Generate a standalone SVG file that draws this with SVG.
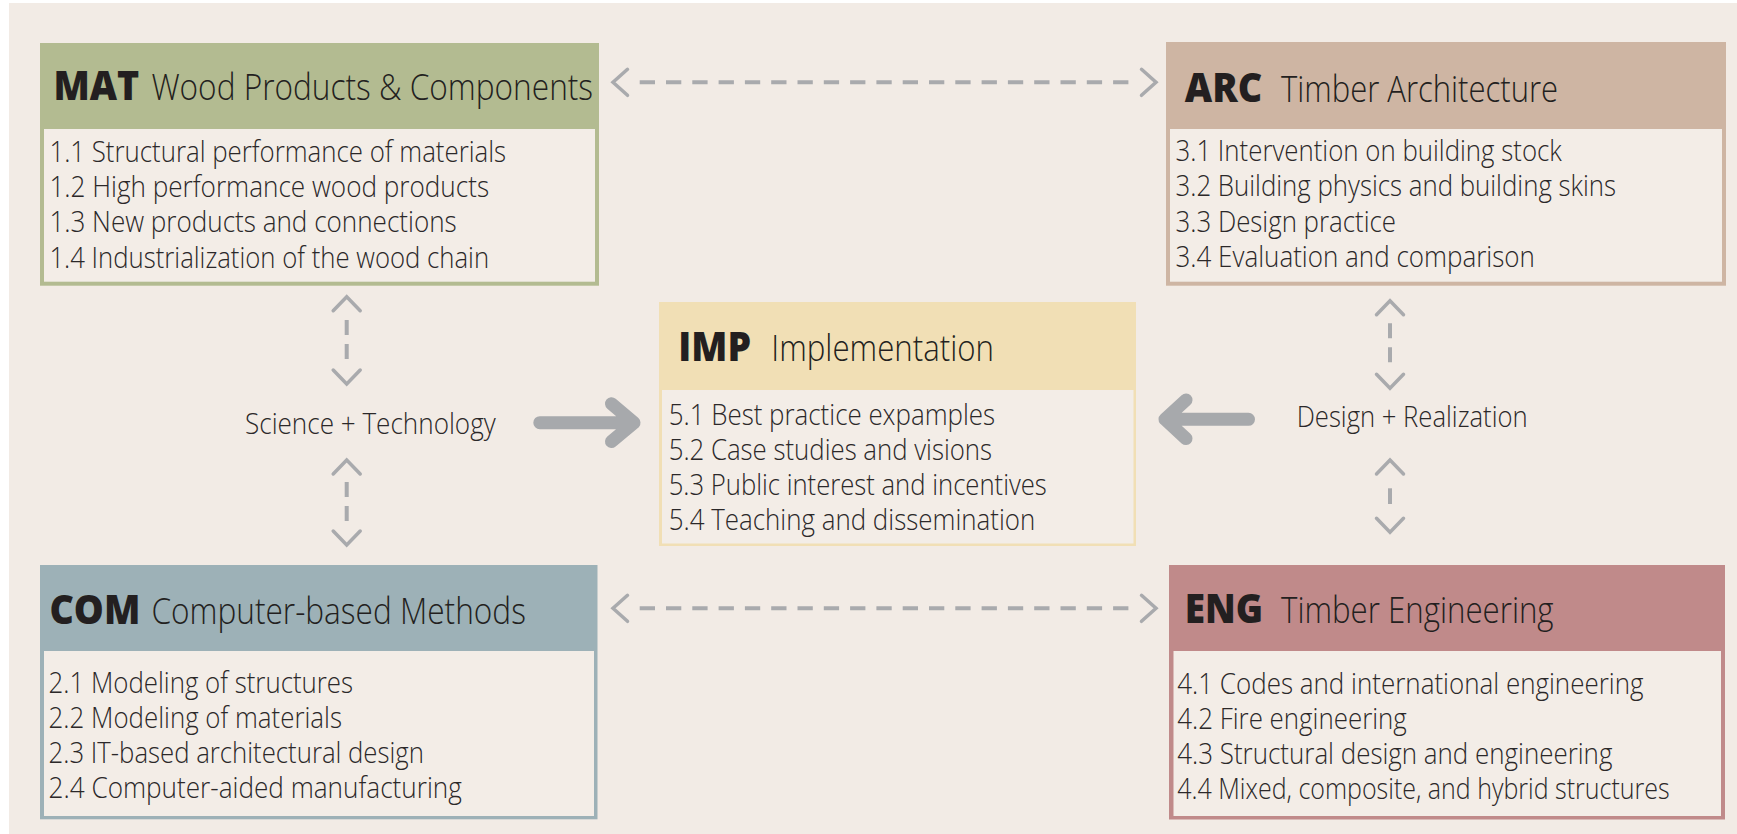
<svg xmlns="http://www.w3.org/2000/svg" width="1737" height="834" viewBox="0 0 1737 834">
<style>
.bg{fill:#f2ebe5}
.body{fill:#f3ede7}
.abbr{font-family:"Open Sans","DejaVu Sans",sans-serif;font-weight:800;font-size:40px;fill:#231f20}
.title{font-family:"Open Sans","DejaVu Sans",sans-serif;font-weight:300;font-size:37px;fill:#231f20}
.item{font-family:"Open Sans","DejaVu Sans",sans-serif;font-weight:300;font-size:30px;fill:#2b2829}
.lbl{font-family:"Open Sans","DejaVu Sans",sans-serif;font-weight:300;font-size:30px;fill:#2b2829}
.dash{stroke:#a9aaad;stroke-width:4;fill:none}
.dh{stroke-dasharray:15.3 11}
.dv{stroke-dasharray:15 9}
.chev{stroke:#a9aaad;stroke-width:3.5;fill:none;stroke-linecap:round;stroke-linejoin:miter}
.big{stroke:#a7a9ac;stroke-width:13;fill:none;stroke-linecap:round;stroke-linejoin:round}
</style>
<rect x="0" y="0" width="1737" height="834" fill="#ffffff"/>
<rect class="bg" x="9" y="3" width="1728" height="831"/>

<g id="node-MAT">
<rect x="40" y="43" width="559" height="242.7" fill="#b3bb91"/>
<rect class="body" x="44" y="129" width="551" height="152.7"/>
<text class="abbr" x="53.4" y="100" textLength="85.8" lengthAdjust="spacingAndGlyphs">MAT</text>
<text class="title" x="151.4" y="100" textLength="441.7" lengthAdjust="spacingAndGlyphs">Wood Products &amp; Components</text>
<text class="item" x="49.4" y="161.7" textLength="456.7" lengthAdjust="spacingAndGlyphs">1.1 Structural performance of materials</text>
<text class="item" x="49.4" y="196.7" textLength="439.7" lengthAdjust="spacingAndGlyphs">1.2 High performance wood products</text>
<text class="item" x="49.4" y="232" textLength="407.3" lengthAdjust="spacingAndGlyphs">1.3 New products and connections</text>
<text class="item" x="49.4" y="267.7" textLength="439.7" lengthAdjust="spacingAndGlyphs">1.4 Industrialization of the wood chain</text>
</g>

<g id="node-ARC">
<rect x="1166" y="42" width="560" height="243.7" fill="#ceb5a3"/>
<rect class="body" x="1170" y="129" width="552" height="152.7"/>
<text class="abbr" x="1184.8" y="101.7" textLength="77.5" lengthAdjust="spacingAndGlyphs">ARC</text>
<text class="title" x="1281" y="101.7" textLength="277.1" lengthAdjust="spacingAndGlyphs">Timber Architecture</text>
<text class="item" x="1175.5" y="161" textLength="386.3" lengthAdjust="spacingAndGlyphs">3.1 Intervention on building stock</text>
<text class="item" x="1175.5" y="196" textLength="440.6" lengthAdjust="spacingAndGlyphs">3.2 Building physics and building skins</text>
<text class="item" x="1175.5" y="231.7" textLength="220.5" lengthAdjust="spacingAndGlyphs">3.3 Design practice</text>
<text class="item" x="1175.5" y="266.7" textLength="359.4" lengthAdjust="spacingAndGlyphs">3.4 Evaluation and comparison</text>
</g>

<g id="node-COM">
<rect x="40" y="565" width="557.5" height="254.3" fill="#9db1b7"/>
<rect class="body" x="44" y="651" width="550" height="165"/>
<text class="abbr" x="49.4" y="624" textLength="91" lengthAdjust="spacingAndGlyphs">COM</text>
<text class="title" x="151.4" y="624" textLength="374.5" lengthAdjust="spacingAndGlyphs">Computer-based Methods</text>
<text class="item" x="48.6" y="692.7" textLength="304.5" lengthAdjust="spacingAndGlyphs">2.1 Modeling of structures</text>
<text class="item" x="48.6" y="727.7" textLength="293.4" lengthAdjust="spacingAndGlyphs">2.2 Modeling of materials</text>
<text class="item" x="48.6" y="762.7" textLength="375.3" lengthAdjust="spacingAndGlyphs">2.3 IT-based architectural design</text>
<text class="item" x="48.6" y="798.3" textLength="413.2" lengthAdjust="spacingAndGlyphs">2.4 Computer-aided manufacturing</text>
</g>

<g id="node-ENG">
<rect x="1169" y="565" width="556" height="254.5" fill="#c08a8a"/>
<rect class="body" x="1173.5" y="651" width="547.5" height="165"/>
<text class="abbr" x="1184.8" y="623.3" textLength="78.3" lengthAdjust="spacingAndGlyphs">ENG</text>
<text class="title" x="1281" y="623.3" textLength="272.6" lengthAdjust="spacingAndGlyphs">Timber Engineering</text>
<text class="item" x="1177.3" y="694" textLength="466.2" lengthAdjust="spacingAndGlyphs">4.1 Codes and international engineering</text>
<text class="item" x="1177.3" y="729.3" textLength="229.5" lengthAdjust="spacingAndGlyphs">4.2 Fire engineering</text>
<text class="item" x="1177.3" y="764" textLength="435.1" lengthAdjust="spacingAndGlyphs">4.3 Structural design and engineering</text>
<text class="item" x="1177.3" y="799" textLength="492.4" lengthAdjust="spacingAndGlyphs">4.4 Mixed, composite, and hybrid structures</text>
</g>

<g id="node-IMP">
<rect x="659" y="302" width="477" height="244" fill="#f1dfb5"/>
<rect class="body" x="662" y="390" width="471.5" height="153.5"/>
<text class="abbr" x="678.3" y="360.7" textLength="72.7" lengthAdjust="spacingAndGlyphs">IMP</text>
<text class="title" x="771.3" y="360.7" textLength="222.7" lengthAdjust="spacingAndGlyphs">Implementation</text>
<text class="item" x="668.7" y="425" textLength="326.4" lengthAdjust="spacingAndGlyphs">5.1 Best practice expamples</text>
<text class="item" x="668.7" y="460" textLength="323.4" lengthAdjust="spacingAndGlyphs">5.2 Case studies and visions</text>
<text class="item" x="668.7" y="495" textLength="378.1" lengthAdjust="spacingAndGlyphs">5.3 Public interest and incentives</text>
<text class="item" x="668.7" y="530" textLength="366.6" lengthAdjust="spacingAndGlyphs">5.4 Teaching and dissemination</text>
</g>

<g id="label-science">
<text class="lbl" x="245" y="434" textLength="250.7" lengthAdjust="spacingAndGlyphs">Science + Technology</text>
</g>
<g id="label-design">
<text class="lbl" x="1296.7" y="426.7" textLength="231" lengthAdjust="spacingAndGlyphs">Design + Realization</text>
</g>

<g id="connectors">
<!-- MAT <-> ARC -->
<line class="dash dh" x1="639.7" y1="82.3" x2="1129.6" y2="82.3"/>
<path class="chev" d="M 627.5 69.3 L 613 82.3 L 627.5 95.3"/>
<path class="chev" d="M 1141.5 69.3 L 1156 82.3 L 1141.5 95.3"/>
<!-- COM <-> ENG -->
<line class="dash dh" x1="639.7" y1="608.3" x2="1129.6" y2="608.3"/>
<path class="chev" d="M 627.5 595.3 L 613 608.3 L 627.5 621.3"/>
<path class="chev" d="M 1141.5 595.3 L 1156 608.3 L 1141.5 621.3"/>
<!-- MAT <-> Science -->
<line class="dash dv" x1="346.7" y1="320" x2="346.7" y2="359"/>
<path class="chev" d="M 333.2 310.7 L 346.7 296.7 L 360.2 310.7"/>
<path class="chev" d="M 333.2 370 L 346.7 384 L 360.2 370"/>
<!-- Science <-> COM -->
<line class="dash dv" x1="346.7" y1="482" x2="346.7" y2="521"/>
<path class="chev" d="M 333.2 474 L 346.7 460 L 360.2 474"/>
<path class="chev" d="M 333.2 531 L 346.7 545 L 360.2 531"/>
<!-- ARC <-> Design -->
<line class="dash dv" x1="1390" y1="323.3" x2="1390" y2="362.3"/>
<path class="chev" d="M 1376.5 314.7 L 1390 300.7 L 1403.5 314.7"/>
<path class="chev" d="M 1376.5 374.3 L 1390 388.3 L 1403.5 374.3"/>
<!-- Design <-> ENG -->
<line class="dash" x1="1390" y1="488.3" x2="1390" y2="504"/>
<path class="chev" d="M 1376.5 474 L 1390 460 L 1403.5 474"/>
<path class="chev" d="M 1376.5 518.3 L 1390 532.3 L 1403.5 518.3"/>
<!-- Science -> IMP -->
<path class="big" d="M 539.8 422.7 L 632 422.7 M 611.5 403.8 L 634 422.7 L 611.5 441.6"/>
<!-- Design -> IMP -->
<path class="big" d="M 1248.5 419.3 L 1167 419.3 M 1186 400 L 1165 419.3 L 1186 438.6"/>
</g>
</svg>
